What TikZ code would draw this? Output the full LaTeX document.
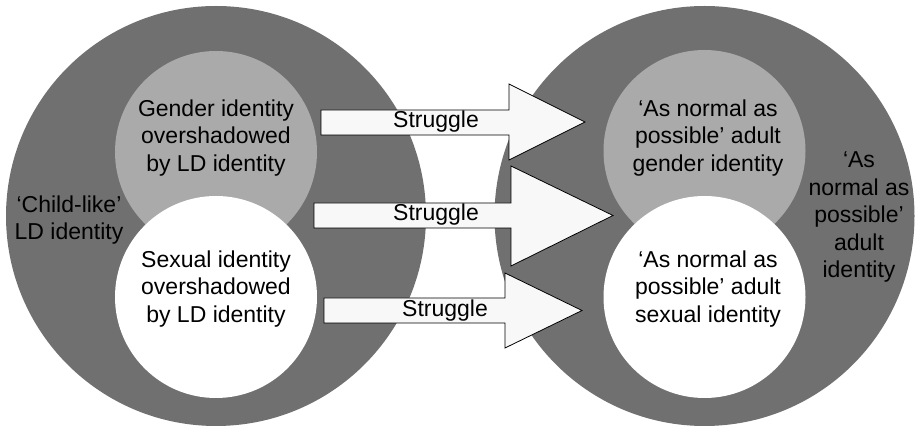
\documentclass[tikz,border=0pt]{standalone}
\usepackage{fontspec}
\setmainfont{Liberation Sans}
\definecolor{darkring}{RGB}{112,112,112}
\definecolor{lightring}{RGB}{170,170,170}
\definecolor{arrowfill}{RGB}{248,248,248}
\begin{document}
\begin{tikzpicture}[x=1pt,y=-1pt,
  bigdisc/.style={circle,fill=darkring,minimum size=420pt,inner sep=0pt},
  genderdisc/.style={circle,fill=lightring,minimum size=202pt,inner sep=0pt},
  sexdisc/.style={circle,fill=white,minimum size=202pt,inner sep=0pt},
  lbl/.style={align=center,font=\fontsize{23}{27.5}\selectfont,inner sep=0pt},
  struggle/.style={draw=black,fill=arrowfill,line width=0.8pt,line join=miter}]
\useasboundingbox (0,0) rectangle (916,427);
\fill[white] (0,0) rectangle (916,427);
% left
\node[bigdisc] (L) at (216,216) {};
\node[genderdisc] (LG) at (216,152) {};
\node[sexdisc] (LS) at (216,297) {};
% right
\node[bigdisc] (R) at (704.5,216) {};
\node[genderdisc] (RG) at (704.5,151) {};
\node[sexdisc] (RS) at (704.5,297) {};
% arrows
\draw[struggle] (321,110) -- (509,110) -- (509,84) -- (585,122) -- (509,160) -- (509,135) -- (321,135) -- cycle;
\draw[struggle] (314,203) -- (511,203) -- (511,166) -- (613,215.5) -- (511,266) -- (511,228) -- (314,228) -- cycle;
\draw[struggle] (324,298) -- (505,298) -- (505,273) -- (582,310.5) -- (505,348) -- (505,323) -- (324,323) -- cycle;
\node[lbl] (s1) at (436,122) {Struggle};
\node[lbl] (s2) at (436,215) {Struggle};
\node[lbl] (s3) at (445,311) {Struggle};
% texts
\node[lbl] (tLG) at (216,138) {Gender identity\\overshadowed\\by LD identity};
\node[lbl] (tLS) at (216,289) {Sexual identity\\overshadowed\\by LD identity};
\node[lbl] (tL) at (69,220) {‘Child-like’\\LD identity};
\node[lbl] (tRG) at (708,138) {‘As normal as\\possible’ adult\\gender identity};
\node[lbl] (tRS) at (708,289) {‘As normal as\\possible’ adult\\sexual identity};
\node[lbl] (tR) at (859,217) {‘As\\normal as\\possible’\\adult\\identity};
\end{tikzpicture}
\end{document}
